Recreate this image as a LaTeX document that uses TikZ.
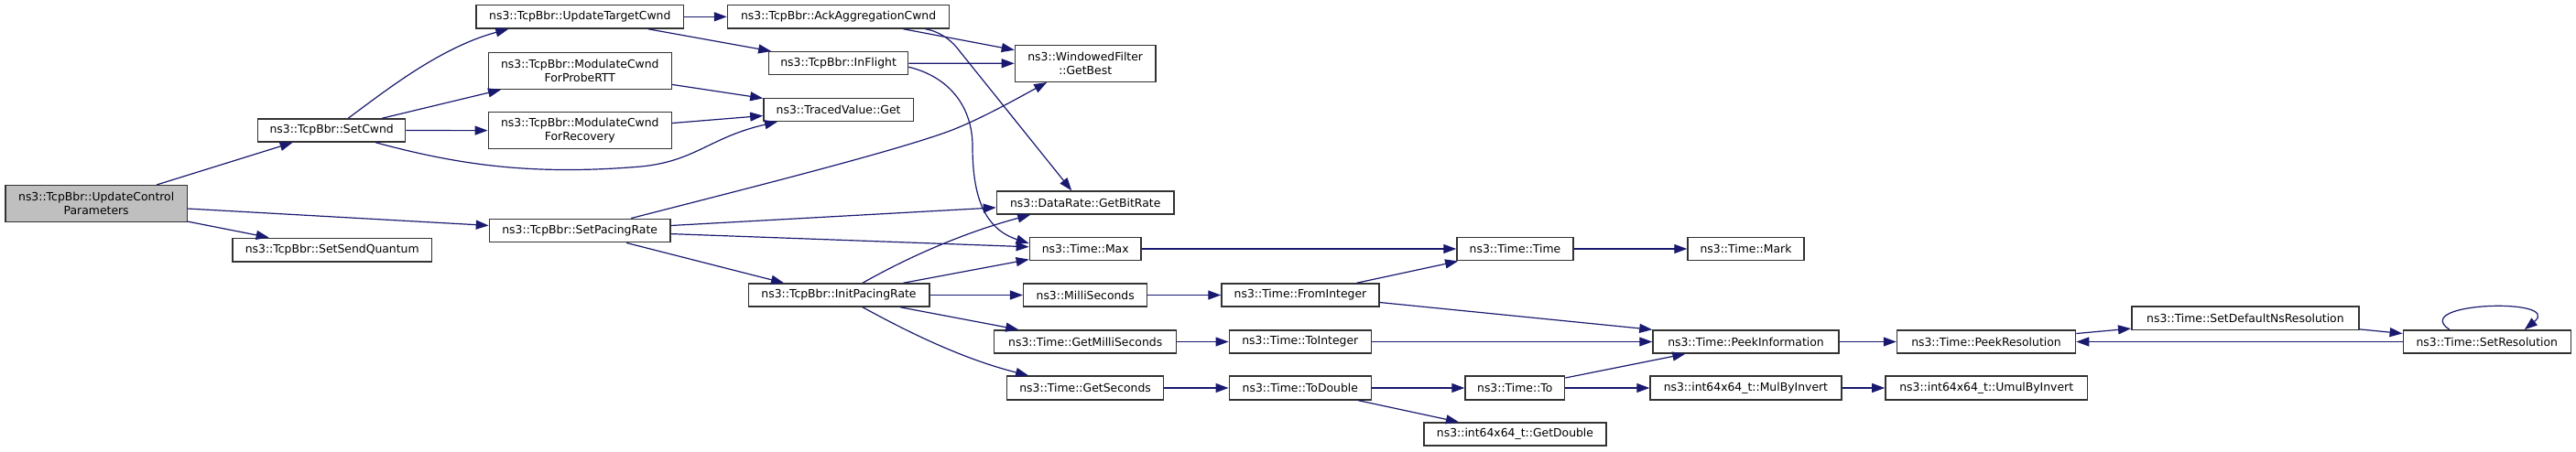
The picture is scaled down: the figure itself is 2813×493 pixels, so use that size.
\documentclass[tikz,border=0pt]{standalone}
\usepackage{fontspec}
\setmainfont{DejaVu Sans}
\usetikzlibrary{arrows.meta}
\definecolor{edgeblue}{HTML}{191970}
\definecolor{rootgray}{HTML}{BFBFBF}
\definecolor{boxline}{HTML}{333333}
\tikzset{
  fn/.style={draw=boxline, line width=1.5pt, fill=white, rectangle, inner sep=0pt, align=center,
    font=\fontsize{12.4}{14.4}\selectfont},
  rootfn/.style={fn, fill=rootgray},
  call/.style={draw=edgeblue, line width=1.2pt, -{Triangle[length=14pt,width=10pt]}},
}
\begin{document}
\begin{tikzpicture}[x=1pt,y=-1pt]
\useasboundingbox (0,0) rectangle (2813,493);
% nodes
\node[rootfn, minimum width=198.3pt, minimum height=39.6pt] (ucp) at (105.2,222.5) {ns3::TcpBbr::UpdateControl\\Parameters};
\node[fn, minimum width=217.3pt, minimum height=25.7pt] (ssq) at (362.7,273.2) {ns3::TcpBbr::SetSendQuantum};
\node[fn, minimum width=161pt, minimum height=25pt] (setcwnd) at (362.2,142.5) {ns3::TcpBbr::SetCwnd};
\node[fn, minimum width=197.5pt, minimum height=25.4pt] (spr) at (633.2,252) {ns3::TcpBbr::SetPacingRate};
\node[fn, minimum width=226.7pt, minimum height=25.3pt] (utc) at (633.3,18.3) {ns3::TcpBbr::UpdateTargetCwnd};
\node[fn, minimum width=200pt, minimum height=40pt] (mprobe) at (633.3,77.3) {ns3::TcpBbr::ModulateCwnd\\ForProbeRTT};
\node[fn, minimum width=200pt, minimum height=40pt] (mrec) at (633.3,142.7) {ns3::TcpBbr::ModulateCwnd\\ForRecovery};
\node[fn, minimum width=242.2pt, minimum height=25.3pt] (ackagg) at (915.6,18.3) {ns3::TcpBbr::AckAggregationCwnd};
\node[fn, minimum width=151.9pt, minimum height=25pt] (inflight) at (915.6,69.2) {ns3::TcpBbr::InFlight};
\node[fn, minimum width=163.4pt, minimum height=25pt] (traced) at (915.6,119.8) {ns3::TracedValue::Get};
\node[fn, minimum width=197.5pt, minimum height=25pt] (ipr) at (916,322.5) {ns3::TcpBbr::InitPacingRate};
\node[fn, minimum width=153.5pt, minimum height=40pt] (wf) at (1185.2,69.3) {ns3::WindowedFilter\\::GetBest};
\node[fn, minimum width=193.5pt, minimum height=25pt] (gbr) at (1185.2,221.5) {ns3::DataRate::GetBitRate};
\node[fn, minimum width=121.7pt, minimum height=25.4pt] (tmax) at (1185.2,272) {ns3::Time::Max};
\node[fn, minimum width=135pt, minimum height=25pt] (milli) at (1185.2,322.5) {ns3::MilliSeconds};
\node[fn, minimum width=199pt, minimum height=25pt] (gms) at (1185.2,373.5) {ns3::Time::GetMilliSeconds};
\node[fn, minimum width=170.8pt, minimum height=25.7pt] (gsec) at (1185.1,424) {ns3::Time::GetSeconds};
\node[fn, minimum width=127pt, minimum height=25.4pt] (ttime) at (1654.5,272) {ns3::Time::Time};
\node[fn, minimum width=172pt, minimum height=25pt] (fromint) at (1420,322.5) {ns3::Time::FromInteger};
\node[fn, minimum width=155pt, minimum height=25pt] (toint) at (1419.8,373.5) {ns3::Time::ToInteger};
\node[fn, minimum width=155pt, minimum height=25.7pt] (todouble) at (1419.8,424) {ns3::Time::ToDouble};
\node[fn, minimum width=127pt, minimum height=25.4pt] (tmark) at (1906.5,272) {ns3::Time::Mark};
\node[fn, minimum width=203pt, minimum height=25pt] (peekinfo) at (1906.5,373.5) {ns3::Time::PeekInformation};
\node[fn, minimum width=108.5pt, minimum height=25.7pt] (tto) at (1654.3,424) {ns3::Time::To};
\node[fn, minimum width=199pt, minimum height=25pt] (getdouble) at (1654.5,474.5) {ns3::int64x64\_t::GetDouble};
\node[fn, minimum width=208.7pt, minimum height=25.7pt] (mulinv) at (1906.4,424) {ns3::int64x64\_t::MulByInvert};
\node[fn, minimum width=195pt, minimum height=25pt] (peekres) at (2169,373.5) {ns3::Time::PeekResolution};
\node[fn, minimum width=220.5pt, minimum height=25.7pt] (umul) at (2169.2,424) {ns3::int64x64\_t::UmulByInvert};
\node[fn, minimum width=248.3pt, minimum height=25.3pt] (setdef) at (2451.9,347.7) {ns3::Time::SetDefaultNsResolution};
\node[fn, minimum width=183pt, minimum height=25pt] (setres) at (2715.8,373.5) {ns3::Time::SetResolution};
% edges
\draw[call] (ucp) -- (setcwnd);
\draw[call] (ucp) -- (spr);
\draw[call] (ucp) -- (ssq);
\draw[call] ([xshift=18pt]setcwnd.north) .. controls (420,100) and (480,52) .. ([xshift=-78pt]utc.south);
\draw[call] (setcwnd) -- (mprobe);
\draw[call] (setcwnd) -- (mrec);
\draw[call] ([xshift=48pt]setcwnd.south) .. controls (500,180) and (580,192) .. (700,182) .. controls (760,176) and (775,150) .. ([xshift=-66.6pt]traced.south);
\draw[call] (utc) -- (ackagg);
\draw[call] (utc) -- (inflight);
\draw[call] (mprobe) -- (traced);
\draw[call] (mrec) -- (traced);
\draw[call] (ackagg) -- (wf);
\draw[call] ([xshift=95pt]ackagg.south) .. controls (1028,35) and (1040,45) .. (1048,56) -- ([xshift=-15pt]gbr.north);
\draw[call] (inflight) -- (wf);
\draw[call] ([yshift=-4pt]inflight.east) .. controls (1040,85) and (1062,120) .. (1062,160) .. controls (1062,215) and (1075,250) .. ([yshift=6pt]tmax.west);
\draw[call] ([xshift=56pt]spr.north) .. controls (800,210) and (980,165) .. (1040,142) .. controls (1075,128) and (1110,108) .. ([xshift=-42pt]wf.south);
\draw[call] (spr) -- (gbr);
\draw[call] (spr) -- (tmax);
\draw[call] ([xshift=51pt]spr.south) -- ([xshift=-60pt]ipr.north);
\draw[call] ([xshift=26pt]ipr.north) .. controls (990,282) and (1050,255) .. ([xshift=-60pt]gbr.south);
\draw[call] (ipr) -- (tmax);
\draw[call] (ipr) -- (milli);
\draw[call] ([xshift=67pt]ipr.south) -- ([xshift=-73pt]gms.north);
\draw[call] ([xshift=26pt]ipr.south) .. controls (990,362) and (1050,392) .. ([xshift=-62pt]gsec.north);
\draw[call] (tmax) -- (ttime);
\draw[call] (ttime) -- (tmark);
\draw[call] (milli) -- (fromint);
\draw[call] (fromint) -- (ttime);
\draw[call] ([yshift=-8pt]fromint.east) -- (peekinfo.north west);
\draw[call] (gms) -- (toint);
\draw[call] (toint) -- (peekinfo);
\draw[call] (gsec) -- (todouble);
\draw[call] (todouble) -- (tto);
\draw[call] (todouble) -- (getdouble);
\draw[call] (tto) -- (peekinfo);
\draw[call] (tto) -- (mulinv);
\draw[call] (mulinv) -- (umul);
\draw[call] (peekinfo) -- (peekres);
\draw[call] (peekres) -- (setdef);
\draw[call] (setdef) -- (setres);
\draw[call] (setres) -- (peekres);
\draw[call] ([xshift=-41pt]setres.north) .. controls (2630,330) and (2800,325) .. ([xshift=41pt]setres.north);
\end{tikzpicture}
\end{document}
